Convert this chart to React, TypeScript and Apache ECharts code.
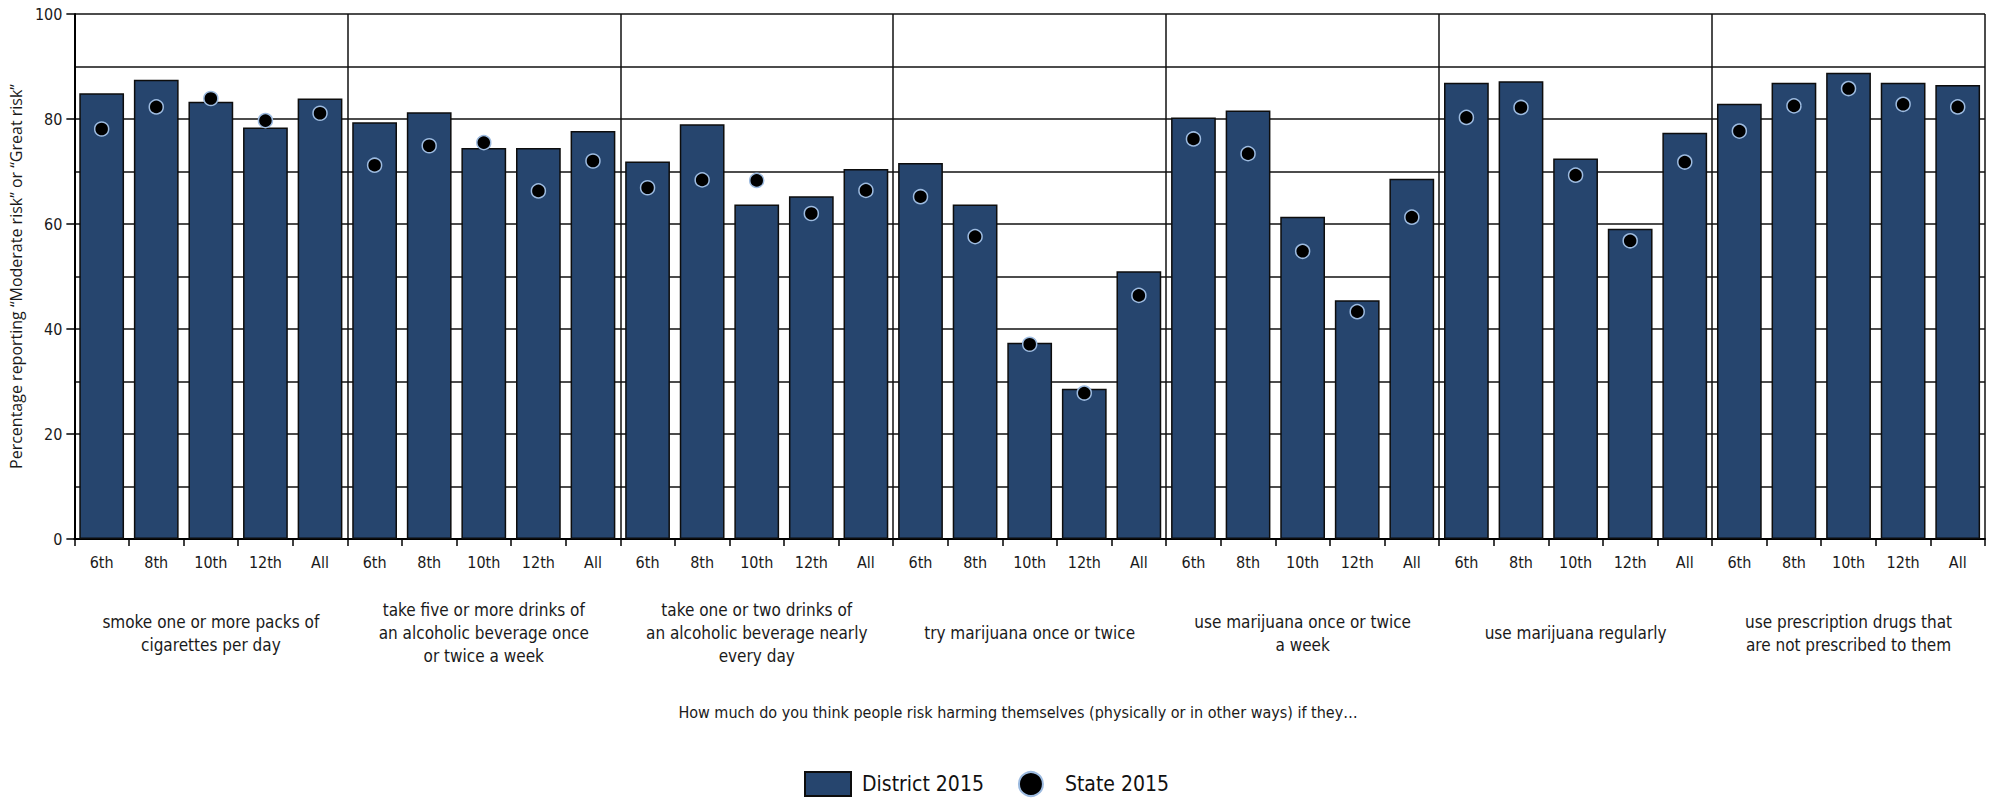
import React, { useEffect, useRef } from "react";
import * as echarts from "echarts";

const grades = ["6th", "8th", "10th", "12th", "All"];
const groups = [
  "smoke one or more packs of\ncigarettes per day",
  "take five or more drinks of\nan alcoholic beverage once\nor twice a week",
  "take one or two drinks of\nan alcoholic beverage nearly\nevery day",
  "try marijuana once or twice",
  "use marijuana once or twice\na week",
  "use marijuana regularly",
  "use prescription drugs that\nare not prescribed to them",
];
const district2015 = [
  84.9, 87.5, 83.3, 78.4, 83.9,
  79.4, 81.3, 74.5, 74.5, 77.7,
  71.9, 79.0, 63.7, 65.3, 70.5,
  71.6, 63.7, 37.4, 28.6, 51.0,
  80.3, 81.6, 61.4, 45.5, 68.6,
  86.9, 87.2, 72.5, 59.1, 77.4,
  82.9, 86.9, 88.8, 86.9, 86.5,
];
const state2015 = [
  78.1, 82.3, 83.9, 79.7, 81.1,
  71.2, 74.9, 75.5, 66.3, 72.0,
  66.9, 68.4, 68.3, 62.0, 66.4,
  65.2, 57.6, 37.1, 27.8, 46.4,
  76.2, 73.4, 54.8, 43.3, 61.3,
  80.3, 82.2, 69.3, 56.8, 71.8,
  77.7, 82.5, 85.8, 82.8, 82.3,
];
const yTicks = [0, 20, 40, 60, 80, 100];
const yTitle = "Percentage reporting \u201cModerate risk\u201d or \u201cGreat risk\u201d";
const caption =
  "How much do you think people risk harming themselves (physically or in other ways) if they\u2026";

const NARROW = "'Liberation Sans Narrow', 'DejaVu Sans Condensed', 'Arial Narrow', sans-serif";

export default function App() {
  const ref = useRef<HTMLDivElement>(null);
  useEffect(() => {
    if (!ref.current) return;
    const chart = echarts.init(ref.current, undefined, { renderer: "svg" });
    const categories: string[] = [];
    groups.forEach((_, gi) => grades.forEach((g) => categories.push(gi + "|" + g)));
    chart.setOption({
      animation: false,
      backgroundColor: "#ffffff",
      grid: { left: 73, right: 14, top: 14, bottom: 262, containLabel: false },
      xAxis: [
        {
          type: "category",
          data: categories,
          position: "bottom",
          axisLine: { show: true, lineStyle: { color: "#000", width: 2 } },
          axisTick: { show: true, length: 7, lineStyle: { color: "#000", width: 1.5 } },
          axisLabel: {
            interval: 0,
            margin: 15,
            fontFamily: NARROW,
            fontSize: 16,
            color: "#1a1a1a",
            formatter: (v: string) => v.split("|")[1],
          },
          splitLine: { show: false },
        },
        {
          type: "category",
          data: groups,
          position: "bottom",
          axisLine: { show: false },
          axisTick: { show: false },
          axisLabel: {
            interval: 0,
            margin: 94,
            verticalAlign: "middle",
            lineHeight: 23,
            fontFamily: NARROW,
            fontSize: 17,
            color: "#1a1a1a",
          },
          splitLine: { show: true, lineStyle: { color: "#111", width: 1.5 } },
        },
      ],
      yAxis: {
        type: "value",
        min: yTicks[0],
        max: yTicks[yTicks.length - 1],
        interval: 20,
        name: yTitle,
        nameLocation: "middle",
        nameGap: 43,
        nameTextStyle: { fontFamily: "'Open Sans', 'Noto Sans', sans-serif", fontSize: 16, color: "#1a1a1a" },
        axisLine: { show: true, lineStyle: { color: "#000", width: 2 } },
        axisTick: { show: true, length: 8, lineStyle: { color: "#000", width: 1.5 } },
        axisLabel: { margin: 12, fontFamily: NARROW, fontSize: 16, color: "#1a1a1a" },
        splitLine: { show: true, lineStyle: { color: "#111", width: 1.5 } },
        minorTick: { show: false, splitNumber: 2 },
        minorSplitLine: { show: true, lineStyle: { color: "#111", width: 1.5 } },
      },
      legend: {
        top: 766,
        left: 799,
        itemWidth: 46,
        itemHeight: 24,
        itemGap: 34,
        textStyle: { fontFamily: NARROW, fontSize: 21, color: "#111", padding: [0, 0, 0, 6] },
        data: [
          { name: "District 2015", icon: "rect" },
          { name: "State 2015", icon: "circle" },
        ],
      },
      graphic: [
        {
          type: "text",
          x: 1018,
          y: 712,
          style: {
            text: caption,
            fontFamily: NARROW,
            fontSize: 16,
            fill: "#1a1a1a",
            textAlign: "center",
            textVerticalAlign: "middle",
          },
        },
      ],
      series: [
        {
          name: "District 2015",
          type: "bar",
          xAxisIndex: 0,
          data: district2015,
          barWidth: "82%",
          itemStyle: { color: "#26456e", borderColor: "#0d0d0d", borderWidth: 1.5 },
          z: 3,
        },
        {
          name: "State 2015",
          type: "scatter",
          xAxisIndex: 0,
          data: state2015,
          symbol: "circle",
          symbolSize: 14,
          symbolKeepAspect: true,
          itemStyle: { color: "#000", borderColor: "#9dbbe0", borderWidth: 1.5, opacity: 1 },
          z: 5,
        },
      ],
    });
    return () => chart.dispose();
  }, []);
  return (
    <div
      ref={ref}
      style={{ position: "absolute", left: 0, top: 0, width: 1999, height: 801 }}
    />
  );
}
